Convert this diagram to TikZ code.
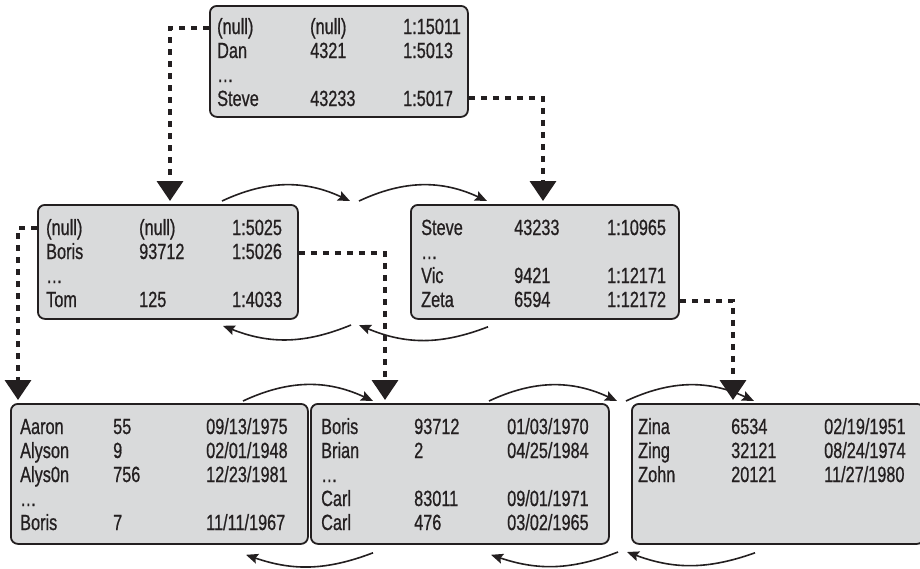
\documentclass[tikz,border=0pt]{standalone}
\usepackage{fontspec}
\setmainfont{Liberation Sans}[FakeStretch=0.74,FakeBold=0.7]
\usepackage{xcolor}
\usepackage{tikz}
\usetikzlibrary{calc,arrows.meta,positioning}
\definecolor{inkc}{HTML}{231F20}
\definecolor{pagebg}{HTML}{D9DADB}
\tikzset{
  page/.style={draw=inkc,line width=1.8pt,rounded corners=7pt,fill=pagebg,anchor=north west,inner sep=0pt},
  rows/.style={anchor=north west,inner sep=0pt,text=inkc,font=\fontsize{22}{24}\selectfont},
  ptr/.style={line width=3.6pt,inkc,dash pattern=on 6pt off 6pt,-{Triangle[length=20pt,width=26pt]}},
  sib/.style={line width=1.6pt,inkc,-{Stealth[length=12pt,width=10pt,inset=2pt]}}
}
\newcommand{\cols}[1]{\begin{tabular}{@{}p{93pt}@{}p{93pt}@{}l@{}}#1\end{tabular}}

\begin{document}
\begin{tikzpicture}[x=1pt,y=1pt]
\useasboundingbox (0,0) rectangle (920,-568);
% root page
\node[page,minimum width=258pt,minimum height=111pt] (root) at (209,-5) {};
\node[rows] (root-t) at ([shift={(8,-12)}]root.north west)
  {\cols{(null) & (null) & 1:15011\\ Dan & 4321 & 1:5013\\ \ldots & & \\ Steve & 43233 & 1:5017}};
% branch pages
\node[page,minimum width=260pt,minimum height=114pt] (left) at (37,-204) {};
\node[rows] (left-t) at ([shift={(9,-14)}]left.north west)
  {\cols{(null) & (null) & 1:5025\\ Boris & 93712 & 1:5026\\ \ldots & & \\ Tom & 125 & 1:4033}};
\node[page,minimum width=268pt,minimum height=114pt] (right) at (410,-204) {};
\node[rows] (right-t) at ([shift={(11,-14)}]right.north west)
  {\cols{Steve & 43233 & 1:10965\\ \ldots & & \\ Vic & 9421 & 1:12171\\ Zeta & 6594 & 1:12172}};
% leaf pages
\node[page,minimum width=297pt,minimum height=140pt] (la) at (10,-403) {};
\node[rows] (la-t) at ([shift={(10,-14)}]la.north west)
  {\cols{Aaron & 55 & 09/13/1975\\ Alyson & 9 & 02/01/1948\\ Alys0n & 756 & 12/23/1981\\ \ldots & & \\ Boris & 7 & 11/11/1967}};
\node[page,minimum width=298pt,minimum height=140pt] (lb) at (310,-403) {};
\node[rows] (lb-t) at ([shift={(11,-14)}]lb.north west)
  {\cols{Boris & 93712 & 01/03/1970\\ Brian & 2 & 04/25/1984\\ \ldots & & \\ Carl & 83011 & 09/01/1971\\ Carl & 476 & 03/02/1965}};
\node[page,minimum width=292pt,minimum height=140pt] (lc) at (631,-403) {};
\node[rows] (lc-t) at ([shift={(7,-14)}]lc.north west)
  {\cols{Zina & 6534 & 02/19/1951\\ Zing & 32121 & 08/24/1974\\ Zohn & 20121 & 11/27/1980}};

% sibling links
\coordinate (gapT) at (354,-201);
\coordinate (gapB) at (355,-325);
\coordinate (gapL) at (621,-401);
\coordinate (gapM) at (622,-552);
\draw[sib] ([shift={(185,3)}]left.north west) to[bend left=25] ([xshift=-4]gapT);
\draw[sib] ([xshift=5]gapT) to[bend left=25] ([shift={(77,3)}]right.north west);
\draw[sib] ([shift={(78,-7)}]right.south west) to[bend left=22] ([xshift=4]gapB);
\draw[sib] ([xshift=-4]gapB) to[bend left=22] ([shift={(186,-6)}]left.south west);
\draw[sib] ([shift={(233,2)}]la.north west) to[bend left=25] ([shift={(63,2)}]lb.north west);
\draw[sib] ([shift={(179,2)}]lb.north west) to[bend left=25] ([xshift=-4]gapL);
\draw[sib] ([xshift=5]gapL) to[bend left=25] ([shift={(123,2)}]lc.north west);
\draw[sib] ([shift={(63,-8)}]lb.south west) to[bend left=20] ([shift={(236,-10)}]la.south west);
\draw[sib] ([xshift=-4]gapM) to[bend left=20] ([shift={(181,-10)}]lb.south west);
\draw[sib] ([shift={(124,-8)}]lc.south west) to[bend left=20] ([xshift=5]gapM);

% child pointers
\draw[ptr] ([yshift=-23pt]root.north west) -| ([shift={(133,3)}]left.north west);
\draw[ptr] ([yshift=-93pt]root.north east) -| ([shift={(133,3)}]right.north west);
\draw[ptr] ([yshift=-24pt]left.north west) -| ([shift={(8,3)}]la.north west);
\draw[ptr] ([yshift=-49pt]left.north east) -| ([shift={(75,3)}]lb.north west);
\draw[ptr] ([yshift=-97pt]right.north east) -| ([shift={(102,3)}]lc.north west);
\end{tikzpicture}
\end{document}
